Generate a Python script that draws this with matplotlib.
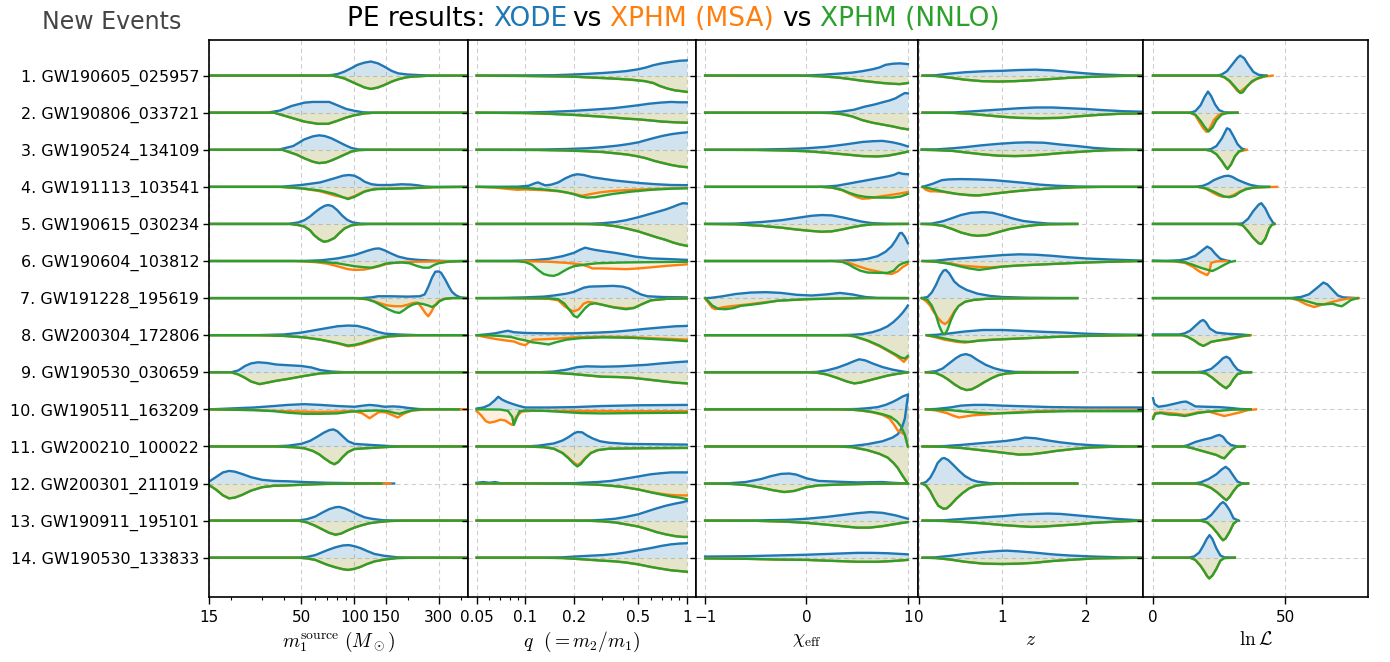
import numpy as np
import matplotlib.pyplot as plt
from matplotlib.ticker import FixedLocator, FixedFormatter, LogLocator, NullFormatter, NullLocator

plt.rcParams.update({
    "font.family": ["DejaVu Sans"],
    "mathtext.fontset": "cm",
})

BLUE, ORANGE, GREEN = "#1f77b4", "#ff7f0e", "#2ca02c"

EVENTS = [
    "GW190605_025957", "GW190806_033721", "GW190524_134109", "GW191113_103541",
    "GW190615_030234", "GW190604_103812", "GW191228_195619", "GW200304_172806",
    "GW190530_030659", "GW190511_163209", "GW200210_100022", "GW200301_211019",
    "GW190911_195101", "GW190530_133833",
]

# Each curve: (value, density height in row units). None -> same as NNLO curve.
M1_XODE = [
    [(15,0),(70,0),(80,0.04),(88,0.11),(96,0.2),(104,0.29),(114,0.35),(124,0.38),(136,0.33),(148,0.24),(162,0.13),(177,0.06),(200,0.03),(240,0.01),(300,0),(440,0)],
    [(15,0),(32,0),(38,0.06),(44,0.18),(52,0.27),(58,0.29),(72,0.29),(80,0.2),(90,0.1),(100,0.05),(112,0.01),(130,0),(440,0)],
    [(15,0),(37,0),(45,0.1),(52,0.28),(58,0.36),(63,0.39),(68,0.37),(74,0.31),(80,0.23),(88,0.13),(96,0.05),(105,0.01),(120,0),(440,0)],
    [(15,0),(38,0),(50,0.05),(64,0.12),(77,0.23),(86,0.3),(93,0.32),(100,0.3),(107,0.23),(114,0.14),(125,0.07),(136,0.05),(160,0.05),(185,0.07),(210,0.06),(230,0.04),(250,0.01),(280,0),(440,0)],
    [(15,0),(42,0),(48,0.04),(52,0.1),(56,0.2),(60,0.32),(64,0.42),(68,0.49),(71,0.51),(75,0.48),(80,0.37),(85,0.23),(91,0.11),(98,0.04),(108,0.01),(125,0),(440,0)],
    [(15,0),(50,0),(65,0.02),(80,0.07),(100,0.16),(119,0.28),(130,0.33),(138,0.34),(148,0.29),(162,0.2),(177,0.12),(200,0.06),(230,0.03),(280,0.01),(330,0),(440,0)],
    [(15,0),(110,0),(125,0.02),(136,0.05),(160,0.05),(200,0.04),(235,0.05),(250,0.1),(262,0.3),(275,0.55),(287,0.71),(300,0.72),(310,0.68),(327,0.5),(342,0.32),(357,0.17),(375,0.08),(398,0.02),(440,0)],
    [(15,0),(28,0),(40,0.02),(50,0.07),(64,0.16),(80,0.24),(92,0.26),(104,0.25),(119,0.18),(135,0.09),(150,0.04),(177,0.02),(230,0),(440,0)],
    [(15,0),(20,0),(22,0.05),(24,0.17),(26,0.24),(28.5,0.27),(32,0.25),(36,0.21),(42,0.19),(50,0.17),(57,0.13),(64,0.06),(74,0.02),(90,0),(440,0)],
    [(15,0),(17,0.01),(27,0.05),(35,0.09),(42,0.12),(52,0.14),(64,0.12),(80,0.09),(100,0.07),(112,0.1),(122,0.12),(135,0.1),(148,0.07),(165,0.08),(180,0.07),(200,0.04),(230,0.01),(260,0),(400,0)],
    [(15,0),(33,0),(42,0.02),(50,0.07),(56,0.15),(62,0.27),(67,0.37),(72,0.44),(76,0.46),(80,0.41),(86,0.27),(92,0.14),(100,0.07),(115,0.05),(135,0.03),(160,0.01),(200,0),(440,0)],
    [(15,0.05),(16.5,0.18),(18,0.3),(19.5,0.34),(21,0.32),(23,0.26),(26,0.17),(30,0.1),(35,0.07),(42,0.06),(52,0.04),(70,0.02),(100,0.01),(130,0.005),(168,0)],
    [(15,0),(48,0),(54,0.04),(60,0.11),(66,0.22),(72,0.31),(78,0.36),(82,0.37),(88,0.33),(96,0.25),(104,0.17),(114,0.09),(125,0.05),(145,0.01),(180,0),(440,0)],
    [(15,0),(48,0),(54,0.02),(60,0.07),(70,0.2),(78,0.28),(86,0.33),(93,0.34),(100,0.31),(108,0.26),(118,0.18),(130,0.1),(148,0.05),(175,0.01),(220,0),(440,0)],
]
M1_NNLO = [
    [(15,0),(75,0),(82,0.04),(88,0.08),(100,0.2),(114,0.32),(124,0.36),(136,0.32),(150,0.24),(163,0.16),(177,0.1),(195,0.05),(211,0.03),(260,0.005),(440,0)],
    [(15,0),(35,0),(42,0.11),(52,0.24),(62,0.3),(71,0.3),(80,0.22),(90,0.13),(100,0.07),(114,0.02),(130,0),(440,0)],
    [(15,0),(39,0),(47,0.13),(52,0.23),(58,0.32),(63,0.36),(69,0.34),(74,0.29),(80,0.22),(88,0.13),(96,0.05),(105,0.01),(120,0),(440,0)],
    [(15,0),(38,0),(50,0.04),(64,0.1),(77,0.19),(86,0.28),(92,0.33),(100,0.27),(107,0.2),(114,0.13),(125,0.08),(136,0.06),(170,0.05),(210,0.04),(250,0.02),(280,0.01),(440,0)],
    [(15,0),(43,0),(48,0.03),(52,0.07),(56,0.17),(59,0.3),(63,0.41),(67,0.48),(71,0.46),(77,0.38),(82,0.25),(88,0.12),(96,0.04),(105,0.01),(125,0),(440,0)],
    [(15,0),(50,0),(65,0.02),(80,0.06),(100,0.14),(115,0.17),(125,0.18),(140,0.12),(150,0.07),(165,0.05),(185,0.04),(205,0.06),(225,0.13),(245,0.18),(265,0.18),(285,0.1),(300,0.06),(340,0.02),(400,0.005),(440,0)],
    [(15,0),(100,0),(118,0.03),(130,0.1),(142,0.2),(155,0.3),(170,0.38),(180,0.4),(190,0.33),(200,0.25),(215,0.17),(230,0.14),(245,0.16),(262,0.2),(275,0.24),(290,0.18),(305,0.08),(325,0.02),(360,0),(440,0)],
    [(15,0),(28,0),(40,0.02),(52,0.06),(64,0.12),(80,0.21),(92,0.28),(100,0.26),(109,0.22),(122,0.14),(136,0.08),(155,0.03),(190,0.01),(230,0),(440,0)],
    [(15,0),(20,0),(22,0.06),(24,0.15),(26,0.25),(29,0.32),(32,0.28),(36,0.23),(42,0.18),(52,0.1),(64,0.03),(80,0.01),(90,0),(440,0)],
    [(15,0),(20,0.01),(27,0.02),(35,0.05),(42,0.09),(52,0.12),(64,0.12),(80,0.11),(96,0.06),(114,0.04),(135,0.03),(155,0.05),(170,0.1),(180,0.12),(195,0.07),(215,0.02),(250,0),(390,0)],
    [(15,0),(35,0),(45,0.02),(52,0.05),(58,0.12),(63,0.21),(68,0.33),(73,0.43),(77,0.48),(81,0.42),(86,0.28),(92,0.15),(100,0.07),(115,0.05),(135,0.03),(160,0.01),(200,0),(440,0)],
    [(15,0.04),(16.5,0.17),(18,0.32),(19.5,0.4),(21,0.38),(23,0.31),(26,0.19),(30,0.1),(35,0.06),(42,0.05),(52,0.03),(70,0.01),(100,0.005),(142,0)],
    [(15,0),(48,0),(54,0.05),(60,0.14),(66,0.24),(72,0.33),(78,0.38),(84,0.35),(92,0.26),(100,0.19),(109,0.13),(122,0.07),(136,0.04),(160,0.01),(190,0),(440,0)],
    [(15,0),(48,0),(54,0.02),(60,0.06),(70,0.19),(78,0.26),(86,0.31),(92,0.33),(100,0.3),(108,0.25),(118,0.17),(130,0.1),(148,0.05),(175,0.01),(220,0),(440,0)],
]
M1_MSA = [
    None, None, None,
    [(15,0),(38,0),(50,0.04),(64,0.12),(77,0.23),(86,0.28),(92,0.31),(100,0.25),(107,0.18),(114,0.12),(125,0.07),(136,0.05),(170,0.04),(210,0.03),(250,0.02),(280,0.01),(440,0)],
    None,
    [(15,0),(45,0),(60,0.03),(70,0.07),(80,0.14),(92,0.22),(100,0.24),(114,0.23),(125,0.19),(136,0.15),(150,0.09),(162,0.06),(185,0.03),(220,0.02),(260,0.015),(300,0.01),(440,0)],
    [(15,0),(100,0),(118,0.03),(130,0.09),(142,0.15),(155,0.2),(170,0.22),(185,0.22),(200,0.18),(215,0.13),(228,0.12),(240,0.25),(252,0.4),(262,0.49),(272,0.38),(285,0.2),(300,0.08),(320,0.02),(360,0),(440,0)],
    [(15,0),(28,0),(40,0.02),(52,0.06),(64,0.12),(80,0.22),(92,0.3),(100,0.28),(109,0.24),(122,0.17),(136,0.1),(155,0.04),(190,0.01),(230,0),(440,0)],
    None,
    [(15,0),(20,0.01),(27,0.02),(35,0.04),(42,0.05),(52,0.06),(64,0.07),(80,0.06),(96,0.04),(110,0.1),(122,0.24),(130,0.15),(138,0.07),(150,0.08),(165,0.16),(176,0.22),(190,0.12),(210,0.04),(240,0.01),(280,0),(440,0)],
    None,
    [(15,0.04),(16.5,0.17),(18,0.32),(19.5,0.4),(21,0.38),(23,0.31),(26,0.19),(30,0.1),(35,0.06),(42,0.05),(52,0.03),(70,0.01),(100,0.005),(160,0)],
    None, None,
]

Q_XODE = [
    [(0.05,0),(0.1,0.005),(0.15,0.01),(0.2,0.03),(0.25,0.05),(0.3,0.07),(0.35,0.09),(0.42,0.12),(0.5,0.17),(0.56,0.22),(0.62,0.28),(0.7,0.33),(0.8,0.37),(0.9,0.4),(1.0,0.41)],
    [(0.05,0),(0.1,0.005),(0.14,0.02),(0.2,0.05),(0.28,0.09),(0.35,0.12),(0.42,0.16),(0.5,0.2),(0.58,0.24),(0.68,0.27),(0.8,0.29),(0.9,0.28),(1.0,0.28)],
    [(0.05,0),(0.12,0.005),(0.18,0.02),(0.24,0.04),(0.3,0.07),(0.37,0.11),(0.43,0.15),(0.5,0.2),(0.56,0.26),(0.63,0.32),(0.7,0.37),(0.8,0.42),(0.9,0.45),(1.0,0.47)],
    [(0.05,0),(0.09,0.005),(0.105,0.03),(0.115,0.1),(0.12,0.12),(0.126,0.08),(0.133,0.04),(0.145,0.06),(0.16,0.12),(0.177,0.23),(0.195,0.31),(0.21,0.34),(0.23,0.32),(0.26,0.26),(0.31,0.21),(0.36,0.17),(0.42,0.14),(0.52,0.1),(0.65,0.07),(0.8,0.05),(1.0,0.045)],
    [(0.05,0),(0.2,0),(0.25,0.005),(0.3,0.02),(0.36,0.05),(0.42,0.1),(0.5,0.18),(0.57,0.25),(0.65,0.32),(0.74,0.39),(0.82,0.46),(0.9,0.53),(0.95,0.56),(1.0,0.55)],
    [(0.05,0),(0.08,0.005),(0.11,0.02),(0.14,0.06),(0.17,0.13),(0.2,0.22),(0.22,0.31),(0.235,0.36),(0.25,0.33),(0.27,0.3),(0.31,0.26),(0.36,0.22),(0.42,0.17),(0.48,0.12),(0.6,0.07),(0.8,0.05),(1.0,0.03)],
    [(0.05,0),(0.07,0.005),(0.1,0.02),(0.13,0.04),(0.15,0.07),(0.18,0.12),(0.2,0.17),(0.23,0.28),(0.25,0.31),(0.3,0.32),(0.35,0.33),(0.4,0.31),(0.44,0.26),(0.48,0.17),(0.52,0.1),(0.57,0.05),(0.7,0.03),(1.0,0.02)],
    [(0.05,0),(0.057,0.02),(0.065,0.05),(0.072,0.09),(0.078,0.12),(0.085,0.08),(0.1,0.06),(0.14,0.05),(0.2,0.05),(0.28,0.07),(0.35,0.09),(0.45,0.13),(0.55,0.17),(0.7,0.21),(0.85,0.24),(1.0,0.25)],
    [(0.05,0),(0.12,0),(0.15,0.02),(0.18,0.07),(0.21,0.14),(0.24,0.16),(0.3,0.15),(0.38,0.16),(0.46,0.18),(0.56,0.2),(0.7,0.24),(0.85,0.27),(1.0,0.29)],
    [(0.05,0.02),(0.055,0.05),(0.06,0.12),(0.065,0.25),(0.068,0.34),(0.072,0.26),(0.077,0.2),(0.083,0.15),(0.09,0.1),(0.1,0.05),(0.14,0.05),(0.2,0.06),(0.3,0.09),(0.5,0.11),(1.0,0.12)],
    [(0.05,0),(0.1,0),(0.12,0.02),(0.15,0.08),(0.17,0.16),(0.185,0.25),(0.2,0.35),(0.21,0.39),(0.225,0.38),(0.24,0.3),(0.26,0.22),(0.29,0.14),(0.33,0.1),(0.42,0.07),(0.6,0.06),(1.0,0.05)],
    [(0.05,0.02),(0.055,0.04),(0.06,0.02),(0.065,0.04),(0.07,0.01),(0.1,0.005),(0.2,0.01),(0.28,0.04),(0.34,0.07),(0.4,0.12),(0.5,0.19),(0.6,0.25),(0.7,0.28),(0.8,0.3),(1.0,0.3)],
    [(0.05,0),(0.2,0),(0.25,0.005),(0.3,0.02),(0.36,0.05),(0.42,0.1),(0.5,0.17),(0.57,0.25),(0.65,0.33),(0.74,0.4),(0.85,0.46),(0.95,0.5),(1.0,0.53)],
    [(0.05,0),(0.13,0),(0.17,0.01),(0.22,0.04),(0.3,0.07),(0.36,0.1),(0.42,0.14),(0.5,0.2),(0.6,0.26),(0.7,0.32),(0.8,0.36),(0.9,0.38),(1.0,0.39)],
]
Q_NNLO = [
    [(0.05,0),(0.1,0.01),(0.15,0.02),(0.2,0.03),(0.28,0.06),(0.35,0.08),(0.45,0.11),(0.55,0.15),(0.62,0.2),(0.68,0.28),(0.76,0.35),(0.85,0.4),(0.93,0.42),(1.0,0.44)],
    [(0.05,0),(0.1,0.01),(0.14,0.03),(0.2,0.06),(0.28,0.1),(0.35,0.13),(0.42,0.16),(0.5,0.18),(0.6,0.21),(0.7,0.24),(0.85,0.26),(1.0,0.27)],
    [(0.05,0),(0.12,0.005),(0.18,0.02),(0.24,0.04),(0.3,0.06),(0.37,0.1),(0.43,0.13),(0.5,0.18),(0.56,0.23),(0.63,0.3),(0.7,0.35),(0.8,0.41),(0.9,0.45),(1.0,0.47)],
    [(0.05,0),(0.07,0.01),(0.1,0.03),(0.13,0.07),(0.16,0.11),(0.18,0.15),(0.2,0.2),(0.22,0.26),(0.24,0.29),(0.27,0.28),(0.31,0.23),(0.35,0.19),(0.45,0.13),(0.6,0.08),(0.8,0.05),(1.0,0.04)],
    [(0.05,0),(0.2,0),(0.25,0.005),(0.3,0.02),(0.36,0.06),(0.42,0.12),(0.5,0.2),(0.57,0.28),(0.65,0.36),(0.74,0.43),(0.82,0.5),(0.9,0.55),(1.0,0.59)],
    [(0.05,0),(0.09,0.005),(0.1,0.03),(0.11,0.1),(0.12,0.24),(0.13,0.35),(0.14,0.39),(0.15,0.4),(0.16,0.36),(0.17,0.29),(0.185,0.2),(0.2,0.14),(0.24,0.09),(0.28,0.06),(0.4,0.04),(0.6,0.03),(1.0,0.02)],
    [(0.05,0),(0.14,0.005),(0.16,0.03),(0.175,0.15),(0.19,0.35),(0.2,0.48),(0.21,0.52),(0.22,0.42),(0.235,0.27),(0.25,0.17),(0.27,0.14),(0.3,0.18),(0.35,0.25),(0.42,0.3),(0.47,0.27),(0.53,0.16),(0.6,0.06),(0.75,0.02),(1.0,0.01)],
    [(0.05,0),(0.06,0.005),(0.07,0.02),(0.082,0.05),(0.09,0.1),(0.1,0.14),(0.11,0.19),(0.125,0.22),(0.14,0.25),(0.155,0.19),(0.18,0.12),(0.22,0.08),(0.3,0.06),(0.45,0.07),(0.6,0.1),(0.8,0.13),(1.0,0.16)],
    [(0.05,0),(0.12,0),(0.16,0.02),(0.2,0.05),(0.25,0.09),(0.3,0.12),(0.38,0.13),(0.46,0.15),(0.56,0.19),(0.7,0.24),(0.85,0.28),(1.0,0.3)],
    [(0.05,0),(0.07,0.005),(0.078,0.04),(0.083,0.2),(0.085,0.42),(0.088,0.25),(0.092,0.05),(0.1,0.03),(0.13,0.04),(0.17,0.07),(0.22,0.1),(0.3,0.11),(0.5,0.1),(1.0,0.09)],
    [(0.05,0),(0.1,0),(0.13,0.02),(0.15,0.06),(0.17,0.18),(0.185,0.32),(0.2,0.47),(0.21,0.54),(0.22,0.48),(0.235,0.33),(0.255,0.18),(0.28,0.1),(0.33,0.06),(0.5,0.05),(1.0,0.04)],
    [(0.05,0),(0.1,0),(0.2,0.01),(0.28,0.03),(0.34,0.06),(0.4,0.09),(0.5,0.16),(0.6,0.24),(0.7,0.3),(0.8,0.35),(0.9,0.38),(1.0,0.42)],
    [(0.05,0),(0.2,0),(0.25,0.005),(0.3,0.02),(0.36,0.05),(0.42,0.1),(0.5,0.16),(0.57,0.23),(0.65,0.31),(0.74,0.37),(0.85,0.42),(0.95,0.44),(1.0,0.44)],
    [(0.05,0),(0.13,0),(0.17,0.01),(0.22,0.04),(0.3,0.08),(0.36,0.1),(0.42,0.13),(0.5,0.18),(0.6,0.25),(0.7,0.3),(0.8,0.34),(0.9,0.36),(1.0,0.38)],
]
Q_MSA = [
    None, None, None,
    [(0.05,0),(0.065,0.02),(0.08,0.06),(0.09,0.08),(0.1,0.07),(0.13,0.09),(0.16,0.12),(0.19,0.17),(0.215,0.22),(0.225,0.24),(0.25,0.2),(0.29,0.15),(0.35,0.11),(0.45,0.08),(0.6,0.06),(0.8,0.04),(1.0,0.03)],
    None,
    [(0.05,0),(0.1,0.005),(0.14,0.02),(0.18,0.05),(0.22,0.09),(0.245,0.15),(0.26,0.2),(0.3,0.2),(0.36,0.21),(0.42,0.22),(0.5,0.2),(0.6,0.17),(0.75,0.13),(1.0,0.09)],
    [(0.05,0),(0.1,0.01),(0.14,0.02),(0.16,0.06),(0.175,0.22),(0.19,0.32),(0.2,0.36),(0.215,0.3),(0.23,0.15),(0.245,0.1),(0.27,0.13),(0.3,0.18),(0.35,0.24),(0.42,0.28),(0.47,0.26),(0.53,0.16),(0.6,0.06),(0.75,0.02),(1.0,0.01)],
    [(0.05,0),(0.055,0.04),(0.065,0.1),(0.075,0.14),(0.085,0.17),(0.093,0.24),(0.1,0.27),(0.105,0.2),(0.112,0.12),(0.13,0.11),(0.16,0.09),(0.2,0.06),(0.3,0.04),(0.45,0.05),(0.6,0.08),(0.8,0.1),(1.0,0.12)],
    None,
    [(0.05,0.05),(0.053,0.15),(0.057,0.32),(0.06,0.36),(0.065,0.33),(0.07,0.28),(0.075,0.3),(0.08,0.38),(0.083,0.42),(0.088,0.2),(0.095,0.06),(0.11,0.04),(0.2,0.04),(0.4,0.05),(1.0,0.05)],
    [(0.05,0),(0.1,0),(0.13,0.02),(0.15,0.06),(0.17,0.17),(0.185,0.3),(0.2,0.44),(0.21,0.5),(0.22,0.45),(0.235,0.31),(0.255,0.17),(0.28,0.1),(0.33,0.06),(0.5,0.05),(1.0,0.04)],
    [(0.05,0),(0.1,0),(0.2,0.01),(0.28,0.03),(0.34,0.06),(0.4,0.09),(0.5,0.16),(0.6,0.23),(0.7,0.28),(0.8,0.31),(0.9,0.32),(1.0,0.32)],
    None, None,
]

CHI_XODE = [
    [(-1,0),(0,0.005),(0.15,0.02),(0.3,0.05),(0.45,0.08),(0.55,0.12),(0.65,0.17),(0.72,0.22),(0.78,0.29),(0.85,0.32),(0.92,0.33),(1.0,0.31)],
    [(-1,0),(0.1,0),(0.25,0.01),(0.35,0.03),(0.47,0.08),(0.57,0.16),(0.67,0.22),(0.75,0.28),(0.82,0.33),(0.88,0.39),(0.93,0.47),(0.97,0.53),(1.0,0.52)],
    [(-1,0),(-0.5,0.005),(-0.2,0.02),(0.0,0.04),(0.2,0.08),(0.4,0.15),(0.55,0.21),(0.65,0.23),(0.75,0.24),(0.85,0.2),(0.93,0.15),(1.0,0.09)],
    [(-1,0),(0.1,0),(0.2,0.01),(0.3,0.03),(0.4,0.08),(0.5,0.13),(0.6,0.18),(0.7,0.23),(0.8,0.28),(0.86,0.32),(0.91,0.38),(0.95,0.35),(1.0,0.34)],
    [(-1,0),(-0.7,0.01),(-0.45,0.05),(-0.25,0.1),(-0.1,0.16),(0.05,0.22),(0.15,0.24),(0.25,0.23),(0.35,0.18),(0.45,0.12),(0.55,0.06),(0.65,0.02),(0.8,0.005),(1.0,0)],
    [(-1,0),(0.2,0),(0.35,0.01),(0.5,0.03),(0.6,0.06),(0.7,0.13),(0.78,0.25),(0.84,0.4),(0.88,0.56),(0.92,0.75),(0.94,0.76),(0.97,0.65),(1.0,0.48)],
    [(-1,0),(-0.95,0.005),(-0.85,0.04),(-0.7,0.11),(-0.55,0.15),(-0.4,0.16),(-0.25,0.14),(-0.1,0.09),(0.05,0.07),(0.2,0.1),(0.33,0.14),(0.45,0.1),(0.58,0.03),(0.7,0.005),(1.0,0)],
    [(-1,0),(0.3,0),(0.45,0.01),(0.55,0.03),(0.65,0.08),(0.73,0.15),(0.8,0.24),(0.86,0.36),(0.91,0.49),(0.95,0.61),(0.98,0.72),(1.0,0.8)],
    [(-1,0),(0,0),(0.1,0.01),(0.2,0.05),(0.3,0.12),(0.4,0.22),(0.47,0.3),(0.52,0.35),(0.58,0.32),(0.65,0.24),(0.75,0.14),(0.85,0.07),(0.95,0.02),(1.0,0)],
    [(-1,0),(0.3,0),(0.5,0.01),(0.6,0.03),(0.7,0.06),(0.78,0.12),(0.85,0.2),(0.9,0.27),(0.95,0.35),(1.0,0.4)],
    [(-1,0),(0.3,0),(0.45,0.01),(0.6,0.06),(0.75,0.14),(0.85,0.24),(0.9,0.33),(0.94,0.5),(0.97,0.75),(1.0,1.36)],
    [(-1,0),(-0.75,0.01),(-0.6,0.04),(-0.45,0.12),(-0.35,0.2),(-0.25,0.26),(-0.17,0.27),(-0.1,0.24),(0.0,0.14),(0.12,0.07),(0.3,0.05),(0.5,0.03),(0.75,0.04),(0.85,0.02),(1.0,0)],
    [(-1,0),(-0.5,0.005),(-0.2,0.02),(0.0,0.05),(0.2,0.1),(0.35,0.15),(0.5,0.2),(0.63,0.23),(0.75,0.21),(0.88,0.14),(1.0,0.05)],
    [(-1,0.03),(-0.6,0.04),(-0.3,0.06),(0.0,0.08),(0.3,0.11),(0.5,0.13),(0.65,0.13),(0.8,0.12),(1.0,0.09)],
]
CHI_NNLO = [
    [(-1,0),(0,0.005),(0.15,0.02),(0.3,0.05),(0.45,0.1),(0.55,0.14),(0.65,0.17),(0.75,0.2),(0.85,0.22),(0.92,0.23),(1.0,0.2)],
    [(-1,0),(0.1,0),(0.25,0.01),(0.35,0.04),(0.45,0.1),(0.55,0.2),(0.65,0.27),(0.75,0.32),(0.85,0.37),(0.93,0.42),(1.0,0.45)],
    [(-1,0),(-0.5,0.005),(-0.2,0.02),(0.0,0.04),(0.2,0.08),(0.4,0.13),(0.55,0.17),(0.7,0.18),(0.8,0.16),(0.9,0.11),(1.0,0.05)],
    [(-1,0),(0.15,0),(0.25,0.02),(0.35,0.08),(0.42,0.16),(0.5,0.23),(0.58,0.27),(0.7,0.29),(0.85,0.29),(0.93,0.26),(1.0,0.19)],
    [(-1,0),(-0.7,0.01),(-0.45,0.05),(-0.25,0.1),(-0.1,0.15),(0.05,0.19),(0.15,0.21),(0.25,0.2),(0.35,0.15),(0.45,0.09),(0.55,0.04),(0.65,0.01),(0.8,0.005),(1.0,0)],
    [(-1,0),(0.25,0),(0.35,0.02),(0.42,0.1),(0.47,0.18),(0.53,0.26),(0.6,0.31),(0.72,0.32),(0.8,0.32),(0.86,0.26),(0.91,0.12),(0.95,0.06),(1.0,0.02)],
    [(-1,0),(-0.97,0.08),(-0.93,0.2),(-0.87,0.29),(-0.8,0.3),(-0.72,0.27),(-0.65,0.21),(-0.55,0.18),(-0.44,0.14),(-0.28,0.07),(0.0,0.03),(0.3,0.01),(0.6,0),(1.0,0)],
    [(-1,0),(0.3,0),(0.4,0.005),(0.47,0.03),(0.6,0.14),(0.72,0.28),(0.8,0.4),(0.88,0.52),(0.93,0.6),(0.97,0.63),(1.0,0.56)],
    [(-1,0),(0,0),(0.1,0.01),(0.2,0.06),(0.3,0.15),(0.4,0.25),(0.47,0.3),(0.53,0.28),(0.6,0.23),(0.7,0.16),(0.8,0.09),(0.9,0.04),(1.0,0)],
    [(-1,0),(0.3,0),(0.45,0.01),(0.55,0.03),(0.65,0.07),(0.75,0.13),(0.83,0.2),(0.89,0.32),(0.93,0.45),(0.97,0.68),(1.0,1.0)],
    [(-1,0),(0.3,0),(0.45,0.02),(0.6,0.1),(0.72,0.2),(0.8,0.3),(0.86,0.45),(0.9,0.58),(0.95,0.8),(1.0,1.0)],
    [(-1,0),(-0.75,0.01),(-0.6,0.04),(-0.45,0.11),(-0.33,0.18),(-0.22,0.23),(-0.12,0.2),(0.0,0.1),(0.12,0.05),(0.3,0.03),(0.6,0.01),(1.0,0)],
    [(-1,0),(-0.5,0.005),(-0.2,0.03),(0.0,0.06),(0.2,0.11),(0.35,0.15),(0.5,0.19),(0.62,0.19),(0.75,0.15),(0.88,0.09),(1.0,0.04)],
    [(-1,0.02),(-0.6,0.03),(-0.3,0.05),(0.0,0.06),(0.3,0.09),(0.5,0.11),(0.7,0.11),(0.85,0.09),(1.0,0.06)],
]
CHI_MSA = [
    None, None, None,
    [(-1,0),(0.15,0),(0.25,0.02),(0.35,0.09),(0.42,0.18),(0.5,0.28),(0.55,0.32),(0.62,0.31),(0.7,0.27),(0.8,0.23),(0.9,0.19),(1.0,0.14)],
    None,
    [(-1,0),(0.25,0),(0.35,0.01),(0.42,0.05),(0.5,0.13),(0.6,0.22),(0.7,0.28),(0.78,0.33),(0.84,0.35),(0.9,0.28),(0.95,0.16),(1.0,0.08)],
    [(-1,0),(-0.97,0.12),(-0.93,0.26),(-0.9,0.3),(-0.83,0.25),(-0.75,0.22),(-0.65,0.19),(-0.55,0.16),(-0.44,0.12),(-0.28,0.07),(0.0,0.03),(0.3,0.01),(0.6,0),(1.0,0)],
    [(-1,0),(0.3,0),(0.4,0.005),(0.47,0.03),(0.6,0.15),(0.72,0.3),(0.8,0.42),(0.88,0.55),(0.93,0.65),(0.96,0.72),(1.0,0.6)],
    None,
    [(-1,0),(0.3,0),(0.45,0.01),(0.55,0.04),(0.65,0.08),(0.75,0.15),(0.82,0.25),(0.86,0.4),(0.9,0.57),(0.94,0.63),(0.97,0.68),(1.0,1.0)],
    None, None, None, None,
]

Z_XODE = [
    [(0.04,0),(0.2,0.01),(0.35,0.05),(0.55,0.09),(0.8,0.12),(1.0,0.13),(1.2,0.15),(1.4,0.16),(1.6,0.14),(1.8,0.1),(2.0,0.06),(2.2,0.03),(2.45,0.01),(2.69,0)],
    [(0.04,0),(0.4,0.005),(0.6,0.03),(0.8,0.06),(1.0,0.09),(1.2,0.12),(1.4,0.14),(1.6,0.14),(1.8,0.12),(2.0,0.1),(2.2,0.07),(2.45,0.04),(2.69,0.025)],
    [(0.03,0.01),(0.2,0.01),(0.4,0.04),(0.55,0.07),(0.75,0.12),(0.95,0.16),(1.15,0.19),(1.3,0.2),(1.5,0.19),(1.7,0.14),(1.9,0.1),(2.1,0.05),(2.3,0.02),(2.69,0)],
    [(0.04,0),(0.1,0.04),(0.17,0.09),(0.27,0.18),(0.35,0.2),(0.5,0.21),(0.7,0.2),(0.9,0.18),(1.05,0.15),(1.25,0.11),(1.45,0.06),(1.65,0.03),(1.9,0.01),(2.2,0),(2.69,0)],
    [(0.03,0),(0.15,0.01),(0.28,0.07),(0.4,0.16),(0.5,0.24),(0.62,0.3),(0.77,0.32),(0.88,0.3),(1.0,0.23),(1.12,0.15),(1.25,0.08),(1.4,0.04),(1.55,0.01),(1.9,0)],
    [(0.04,0),(0.2,0.01),(0.37,0.05),(0.55,0.08),(0.77,0.12),(1.0,0.16),(1.2,0.18),(1.4,0.17),(1.6,0.14),(1.8,0.1),(2.0,0.07),(2.3,0.04),(2.69,0.01)],
    [(0.03,0),(0.1,0.03),(0.15,0.15),(0.2,0.35),(0.25,0.6),(0.29,0.74),(0.32,0.76),(0.36,0.67),(0.42,0.45),(0.48,0.33),(0.57,0.22),(0.7,0.12),(0.85,0.06),(1.0,0.03),(1.3,0.01),(1.9,0)],
    [(0.09,0),(0.2,0.01),(0.37,0.05),(0.55,0.1),(0.77,0.14),(1.0,0.14),(1.2,0.12),(1.5,0.09),(1.75,0.07),(2.0,0.04),(2.3,0.02),(2.69,0.01)],
    [(0.08,0),(0.2,0.03),(0.28,0.1),(0.36,0.24),(0.44,0.38),(0.5,0.46),(0.56,0.49),(0.62,0.45),(0.7,0.33),(0.8,0.2),(0.9,0.11),(1.0,0.05),(1.15,0.01),(1.9,0)],
    [(0.08,0),(0.2,0.01),(0.37,0.05),(0.5,0.1),(0.65,0.12),(0.8,0.12),(1.0,0.1),(1.3,0.08),(1.6,0.06),(2.0,0.05),(2.4,0.05),(2.69,0.05)],
    [(0.04,0),(0.3,0.01),(0.5,0.04),(0.7,0.08),(0.9,0.12),(1.05,0.15),(1.2,0.2),(1.27,0.24),(1.4,0.22),(1.55,0.16),(1.7,0.11),(1.9,0.06),(2.1,0.03),(2.35,0.01),(2.69,0)],
    [(0.03,0),(0.08,0.04),(0.13,0.15),(0.18,0.35),(0.22,0.55),(0.27,0.67),(0.3,0.69),(0.35,0.63),(0.41,0.5),(0.48,0.34),(0.55,0.2),(0.63,0.1),(0.7,0.05),(0.85,0.01),(1.9,0)],
    [(0.04,0),(0.3,0.01),(0.55,0.05),(0.8,0.09),(1.0,0.12),(1.2,0.16),(1.4,0.18),(1.55,0.19),(1.7,0.18),(1.9,0.14),(2.1,0.1),(2.35,0.05),(2.69,0)],
    [(0.04,0),(0.2,0.01),(0.37,0.05),(0.55,0.1),(0.77,0.15),(0.95,0.18),(1.05,0.19),(1.2,0.17),(1.37,0.14),(1.6,0.09),(1.8,0.06),(2.1,0.03),(2.4,0.01),(2.69,0)],
]
Z_NNLO = [
    [(0.04,0),(0.2,0.01),(0.35,0.05),(0.55,0.11),(0.75,0.15),(0.95,0.16),(1.15,0.15),(1.4,0.12),(1.6,0.09),(1.8,0.06),(2.1,0.03),(2.4,0.01),(2.69,0)],
    [(0.04,0),(0.4,0.005),(0.6,0.03),(0.8,0.07),(1.0,0.11),(1.2,0.14),(1.45,0.15),(1.7,0.14),(1.9,0.1),(2.15,0.06),(2.4,0.03),(2.69,0.02)],
    [(0.03,0),(0.2,0.01),(0.4,0.03),(0.55,0.07),(0.75,0.12),(0.95,0.16),(1.15,0.17),(1.3,0.16),(1.5,0.13),(1.7,0.09),(1.9,0.06),(2.1,0.03),(2.3,0.01),(2.69,0)],
    [(0.04,0),(0.1,0.03),(0.2,0.08),(0.3,0.13),(0.45,0.19),(0.6,0.22),(0.7,0.23),(0.8,0.21),(0.95,0.17),(1.15,0.12),(1.35,0.08),(1.6,0.04),(1.9,0.01),(2.2,0),(2.69,0)],
    [(0.03,0),(0.15,0.01),(0.28,0.05),(0.4,0.14),(0.5,0.23),(0.62,0.3),(0.7,0.32),(0.82,0.3),(0.95,0.22),(1.08,0.14),(1.25,0.07),(1.4,0.03),(1.55,0.01),(1.9,0)],
    [(0.04,0),(0.2,0.02),(0.37,0.08),(0.5,0.15),(0.6,0.2),(0.72,0.24),(0.85,0.2),(1.0,0.15),(1.2,0.12),(1.4,0.1),(1.7,0.07),(2.0,0.04),(2.3,0.02),(2.69,0)],
    [(0.03,0),(0.1,0.05),(0.15,0.2),(0.2,0.45),(0.24,0.75),(0.28,0.95),(0.31,0.97),(0.34,0.85),(0.38,0.6),(0.42,0.4),(0.47,0.22),(0.55,0.1),(0.65,0.05),(0.8,0.02),(1.0,0.01),(1.9,0)],
    [(0.09,0),(0.2,0.04),(0.37,0.12),(0.5,0.17),(0.6,0.18),(0.7,0.15),(0.9,0.12),(1.1,0.1),(1.4,0.07),(1.7,0.04),(2.0,0.02),(2.3,0.01),(2.69,0)],
    [(0.08,0),(0.2,0.02),(0.28,0.1),(0.35,0.2),(0.42,0.32),(0.5,0.43),(0.57,0.48),(0.63,0.46),(0.7,0.38),(0.78,0.27),(0.87,0.16),(0.95,0.08),(1.05,0.03),(1.2,0.01),(1.9,0)],
    [(0.08,0),(0.2,0.01),(0.37,0.02),(0.5,0.05),(0.7,0.09),(0.9,0.11),(1.1,0.1),(1.4,0.07),(1.8,0.05),(2.2,0.05),(2.69,0.05)],
    [(0.04,0),(0.3,0.01),(0.5,0.04),(0.7,0.09),(0.9,0.14),(1.05,0.18),(1.2,0.22),(1.35,0.21),(1.5,0.17),(1.65,0.12),(1.85,0.07),(2.05,0.03),(2.3,0.01),(2.69,0)],
    [(0.03,0),(0.08,0.05),(0.13,0.2),(0.18,0.42),(0.23,0.6),(0.29,0.68),(0.33,0.67),(0.38,0.57),(0.45,0.4),(0.52,0.26),(0.6,0.13),(0.68,0.06),(0.8,0.02),(1.0,0),(1.9,0)],
    [(0.04,0),(0.3,0.01),(0.55,0.04),(0.8,0.08),(1.0,0.12),(1.2,0.15),(1.35,0.17),(1.5,0.16),(1.7,0.13),(1.9,0.1),(2.1,0.06),(2.35,0.03),(2.69,0)],
    [(0.04,0),(0.2,0.01),(0.37,0.05),(0.55,0.11),(0.77,0.16),(1.0,0.17),(1.2,0.16),(1.37,0.14),(1.6,0.09),(1.8,0.06),(2.1,0.02),(2.4,0.01),(2.69,0)],
]
Z_MSA = [
    None, None, None,
    [(0.04,0),(0.08,0.08),(0.13,0.12),(0.2,0.12),(0.3,0.14),(0.45,0.19),(0.6,0.23),(0.7,0.24),(0.8,0.21),(0.95,0.17),(1.15,0.12),(1.35,0.08),(1.6,0.04),(1.9,0.01),(2.2,0),(2.69,0)],
    None,
    [(0.04,0),(0.2,0.02),(0.37,0.06),(0.5,0.12),(0.6,0.14),(0.72,0.16),(0.85,0.17),(1.0,0.15),(1.2,0.12),(1.4,0.1),(1.7,0.07),(2.0,0.04),(2.3,0.02),(2.69,0)],
    [(0.03,0),(0.08,0.08),(0.13,0.2),(0.17,0.36),(0.22,0.52),(0.27,0.65),(0.31,0.7),(0.35,0.63),(0.39,0.48),(0.43,0.33),(0.48,0.2),(0.55,0.1),(0.65,0.05),(0.8,0.02),(1.0,0.01),(1.9,0)],
    [(0.09,0),(0.2,0.06),(0.3,0.12),(0.45,0.18),(0.55,0.2),(0.65,0.17),(0.75,0.14),(0.9,0.12),(1.1,0.1),(1.4,0.07),(1.7,0.04),(2.0,0.02),(2.3,0.01),(2.69,0)],
    None,
    [(0.08,0),(0.2,0.03),(0.33,0.1),(0.42,0.18),(0.48,0.22),(0.56,0.19),(0.65,0.16),(0.8,0.14),(1.0,0.1),(1.2,0.07),(1.5,0.04),(2.0,0.03),(2.69,0.02)],
    None, None, None, None,
]

LNL_XODE = [
    [(0,0),(24,0),(26,0.03),(28,0.12),(30,0.3),(32,0.48),(33,0.54),(34.5,0.47),(36,0.3),(38,0.1),(40,0.02),(43,0)],
    [(0,0),(14,0),(16,0.04),(18,0.2),(19.5,0.42),(20.8,0.57),(22,0.45),(23.5,0.22),(25,0.07),(27,0.01),(32,0)],
    [(0,0),(20,0),(22,0.02),(24,0.1),(26,0.3),(28,0.58),(29,0.55),(30.5,0.36),(32,0.15),(33.5,0.04),(35,0)],
    [(0,0),(16,0),(19,0.03),(21,0.09),(23,0.18),(25,0.24),(27,0.29),(28.6,0.3),(30,0.27),(32,0.19),(35,0.1),(37,0.05),(40,0.01),(44,0)],
    [(0,0),(32,0),(34,0.02),(36,0.14),(38,0.35),(40,0.52),(41,0.56),(42.5,0.42),(44,0.2),(45.3,0.05),(46,0)],
    [(0,0.01),(5,0.005),(10,0.02),(13,0.06),(16,0.14),(18.5,0.28),(20.5,0.39),(22,0.33),(23.5,0.2),(25.5,0.06),(28,0.01),(29,0)],
    [(0,0),(52,0),(56,0.03),(59,0.1),(62,0.27),(64.5,0.42),(66,0.37),(68,0.22),(70,0.07),(72,0.02),(77.5,0)],
    [(0,0.02),(10,0.02),(12,0.05),(14,0.12),(16,0.25),(18,0.38),(19,0.41),(20,0.35),(21.5,0.18),(24,0.07),(28,0.04),(33,0.02),(36.5,0)],
    [(0,0),(16,0),(19,0.02),(22,0.09),(24.5,0.24),(26.5,0.38),(27.8,0.42),(29,0.37),(30.5,0.2),(32,0.07),(34,0.01),(37.2,0)],
    [(0,0.3),(0.5,0.15),(2,0.07),(5,0.1),(8,0.15),(11,0.2),(12.5,0.21),(14,0.16),(16,0.08),(20,0.07),(25,0.06),(29,0.04),(33,0.01),(37,0)],
    [(0,0),(11,0),(13,0.03),(16,0.12),(19,0.18),(22,0.23),(24,0.29),(25.2,0.31),(26.5,0.26),(28,0.12),(29.5,0.04),(32,0),(34.6,0)],
    [(0,0),(15,0),(18,0.03),(21,0.12),(24,0.25),(26,0.38),(27.5,0.45),(28.8,0.38),(30.5,0.2),(32,0.05),(33.5,0.01),(36,0)],
    [(0,0),(17,0),(20,0.04),(22,0.15),(24,0.32),(25.5,0.45),(26.5,0.5),(27.5,0.44),(29,0.28),(30.5,0.06),(32.5,0)],
    [(0,0),(13,0),(15.5,0.03),(17.5,0.14),(19,0.32),(20.3,0.5),(21.4,0.61),(22.5,0.5),(24,0.25),(25.5,0.06),(27,0.01),(31,0)],
]
LNL_NNLO = [
    [(0,0),(25,0),(27,0.04),(29,0.14),(31,0.3),(33,0.47),(34,0.45),(35.5,0.3),(37.5,0.15),(40,0.06),(43,0)],
    [(0,0),(14,0),(16,0.05),(18,0.22),(19.5,0.38),(21,0.51),(22.5,0.4),(24,0.2),(26,0.05),(28,0.01),(32,0)],
    [(0,0),(20,0),(22,0.03),(24,0.12),(26,0.3),(27.5,0.46),(28.2,0.52),(29.5,0.4),(31,0.18),(32.5,0.05),(34,0)],
    [(0,0),(17,0),(20,0.04),(23,0.13),(25,0.2),(27,0.26),(29,0.28),(31,0.24),(33,0.14),(35,0.07),(38,0.02),(44,0)],
    [(0,0),(32,0),(34,0.04),(36,0.2),(38,0.38),(40,0.52),(41,0.54),(42.5,0.4),(44,0.12),(45,0.02),(46,0)],
    [(0,0),(8,0.005),(12,0.03),(15,0.1),(18,0.18),(20.8,0.24),(22.5,0.27),(24.5,0.2),(26.5,0.12),(29,0.03),(31,0)],
    [(0,0),(52,0),(56,0.04),(59,0.1),(62,0.16),(65,0.17),(68,0.15),(70,0.2),(71.5,0.22),(73,0.15),(75,0.05),(77.5,0)],
    [(0,0),(11,0),(13,0.04),(15.5,0.14),(17.5,0.24),(19,0.29),(20.5,0.24),(22,0.18),(25,0.14),(28,0.1),(31,0.06),(34,0.02),(36.5,0)],
    [(0,0),(17,0),(20,0.03),(22.5,0.15),(25,0.3),(26.5,0.38),(27.7,0.43),(29,0.35),(30.5,0.18),(32,0.05),(34,0.01),(37,0)],
    [(0,0.26),(0.8,0.12),(3,0.1),(6,0.14),(9,0.15),(12,0.18),(14,0.15),(17,0.1),(21,0.06),(25,0.04),(30,0.01),(37,0)],
    [(0,0),(12,0),(15,0.05),(18,0.11),(21,0.17),(24,0.23),(26,0.3),(27,0.32),(28.5,0.2),(30,0.08),(31.5,0.01),(34.6,0)],
    [(0,0),(16,0),(19,0.03),(22,0.12),(24.5,0.25),(26.5,0.38),(27.8,0.45),(29,0.36),(30.5,0.2),(32,0.07),(33.5,0.01),(36,0)],
    [(0,0),(18,0),(20.5,0.05),(22.5,0.18),(24.5,0.35),(25.5,0.45),(26.5,0.53),(27.5,0.48),(29,0.3),(30.5,0.08),(32,0)],
    [(0,0),(14,0),(16,0.06),(18,0.22),(19.5,0.38),(20.5,0.5),(21.3,0.56),(22.5,0.48),(24,0.3),(25.5,0.08),(27,0.01),(31,0)],
]
LNL_MSA = [
    [(0,0),(25,0),(27,0.05),(29,0.16),(31,0.33),(32,0.42),(33,0.43),(35,0.32),(37,0.2),(39,0.1),(42,0.03),(45.3,0)],
    [(0,0),(14,0),(16,0.07),(17.5,0.25),(19,0.42),(20.3,0.52),(21.5,0.42),(23,0.2),(25,0.05),(27,0.01),(32,0)],
    [(0,0),(20,0),(22,0.03),(24,0.12),(26,0.3),(27.5,0.46),(28.2,0.52),(29.5,0.4),(31,0.18),(32.5,0.05),(35.5,0)],
    [(0,0),(17,0),(20,0.05),(23,0.17),(25,0.24),(26.5,0.27),(28.5,0.27),(30.5,0.22),(33,0.12),(35,0.06),(38,0.02),(42,0.01),(47,0)],
    None,
    [(0,0),(8,0.01),(12,0.05),(15,0.15),(17.5,0.28),(19.5,0.35),(20.5,0.38),(21.3,0.3),(22,0.05),(24,0.01),(28,0)],
    [(0,0),(52,0),(55,0.06),(58,0.17),(61,0.24),(63,0.2),(65,0.16),(68,0.1),(71,0.05),(74,0.01),(78,0)],
    [(0,0),(11,0),(13,0.04),(15.5,0.14),(17.5,0.24),(19,0.29),(20.5,0.24),(22,0.18),(25,0.14),(28,0.12),(31,0.08),(34,0.03),(37,0)],
    None,
    [(0,0.2),(0.8,0.1),(3,0.08),(6,0.1),(9,0.12),(12,0.15),(14,0.13),(17,0.08),(21,0.06),(24,0.12),(27,0.18),(30,0.13),(33,0.08),(36,0.02),(39,0)],
    None, None, None, None,
]

# axes boxes in pixels (left, right), shared top/bottom
W_PX, H_PX = 1390, 662
TOP_PX, BOT_PX = 40, 597
PANELS = [
    dict(xode=M1_XODE, msa=M1_MSA, nnlo=M1_NNLO, log=True, lim=(15, 440),
         ticks=[15, 50, 100, 150, 300], labels=["15", "50", "100", "150", "300"],
         xlabel=r"$m_1^{\rm source}\ (M_\odot)$", px=(209, 468)),
    dict(xode=Q_XODE, msa=Q_MSA, nnlo=Q_NNLO, log=True, lim=(0.0442, 1.14),
         ticks=[0.05, 0.1, 0.2, 0.5, 1], labels=["0.05", "0.1", "0.2", "0.5", "1"],
         xlabel=r"$q\ \ (=m_2/m_1)$", px=(468, 696)),
    dict(xode=CHI_XODE, msa=CHI_MSA, nnlo=CHI_NNLO, log=False, lim=(-1.09, 1.10),
         ticks=[-1, 0, 1], labels=["\u22121", "0", "1"],
         xlabel=r"$\chi_{\rm eff}$", px=(696, 918)),
    dict(xode=Z_XODE, msa=Z_MSA, nnlo=Z_NNLO, log=False, lim=(-0.015, 2.69),
         ticks=[0, 1, 2], labels=["0", "1", "2"],
         xlabel=r"$z$", px=(918, 1143)),
    dict(xode=LNL_XODE, msa=LNL_MSA, nnlo=LNL_NNLO, log=False, lim=(-3.8, 81.4),
         ticks=[0, 50], labels=["0", "50"],
         xlabel=r"$\ln\mathcal{L}$", px=(1143, 1368)),
]


def half_violin(ax, y0, pts, sign, color, alpha, z):
    x = np.array([p[0] for p in pts], dtype=float)
    h = np.array([p[1] for p in pts], dtype=float)
    y = y0 + sign * h
    ax.fill_between(x, y0, y, color=color, alpha=alpha, lw=0, zorder=1)
    ax.plot(x, y, color=color, lw=1.7, zorder=z, solid_joinstyle="round")


fig = plt.figure(figsize=(W_PX / 100, H_PX / 100), dpi=100)
rows = -np.arange(1, len(EVENTS) + 1)

axes = []
for k, p in enumerate(PANELS):
    l, r = p["px"]
    ax = fig.add_axes([l / W_PX, 1 - BOT_PX / H_PX, (r - l) / W_PX, (BOT_PX - TOP_PX) / H_PX])
    axes.append(ax)
    if p["log"]:
        ax.set_xscale("log")
    ax.set_xlim(*p["lim"])
    ax.set_ylim(-15.06, -0.04)
    for i, y0 in enumerate(rows):
        msa = p["msa"][i] if p["msa"][i] is not None else p["nnlo"][i]
        half_violin(ax, y0, p["xode"][i], +1, BLUE, 0.2, 2.1)
        half_violin(ax, y0, msa, -1, ORANGE, 0.12, 2.2)
        half_violin(ax, y0, p["nnlo"][i], -1, GREEN, 0.12, 2.3)

    ax.xaxis.set_major_locator(FixedLocator(p["ticks"]))
    ax.xaxis.set_major_formatter(FixedFormatter(p["labels"]))
    if p["log"]:
        ax.xaxis.set_minor_locator(LogLocator(base=10, subs=np.arange(2, 10)))
        ax.xaxis.set_minor_formatter(NullFormatter())
    else:
        ax.xaxis.set_minor_locator(NullLocator())
    ax.set_yticks(rows)
    if k == 0:
        ax.set_yticklabels([f"{i + 1}. {name}" for i, name in enumerate(EVENTS)], fontsize=11.5)
    else:
        ax.set_yticklabels([])
    ax.tick_params(axis="y", direction="out", length=4, width=1.0, pad=3)
    ax.tick_params(axis="x", which="major", direction="out", length=5, width=1.0, labelsize=11, pad=4)
    ax.tick_params(axis="x", which="minor", direction="out", length=2.5, width=0.8)
    ax.grid(True, which="major", ls=(0, (4, 3)), color="#cfcfcf", lw=0.8)
    ax.set_axisbelow(True)
    for s in ax.spines.values():
        s.set_linewidth(1.2)
    ax.set_xlabel(p["xlabel"], fontsize=14, labelpad=4)

fig.text(42 / W_PX, 1 - 22 / H_PX, "New Events", fontsize=17, color="#444444", ha="left", va="center")

# multi-coloured title built piece by piece
title_parts = [("PE results:", "black", 0), ("XODE", BLUE, 6), ("vs", "black", 3),
               ("XPHM (MSA)", ORANGE, 6), ("vs", "black", 6), ("XPHM (NNLO)", GREEN, 6)]
prev = fig.text(347 / W_PX, 1 - 32 / H_PX, title_parts[0][0], color=title_parts[0][1],
                fontsize=19, ha="left", va="bottom")
for txt, col, gap in title_parts[1:]:
    prev = axes[0].annotate(txt, xy=(1, 0), xycoords=prev, xytext=(gap, 0),
                            textcoords="offset points", color=col, fontsize=19,
                            ha="left", va="bottom", annotation_clip=False)

fig.savefig("out.png", dpi=100)
